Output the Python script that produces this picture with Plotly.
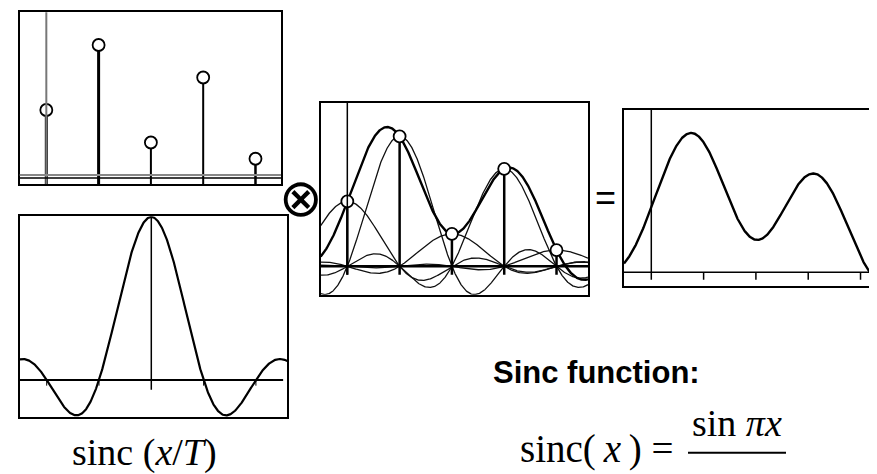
import numpy as np
import plotly.graph_objects as go

W, H = 877, 474

# ---- data ----
sample_pos = [0, 1, 2, 3, 4]           # sample index (x / T)
sample_val = [2.0, 4.0, 1.0, 3.0, 0.5]  # sample amplitudes
stem_width_top = [3, 3, 2, 2, 2.5]
label_kernel = "sinc (<i>x</i>/<i>T</i>)"
label_title = "<b>Sinc function:</b>"
label_formula_lhs = "sinc(\u2009<i>x</i>\u2009) ="
label_formula_num = "sin <i>\u03c0x</i>"
sym_conv = "\u2297"
sym_eq = "="


def px(x):
    return x / W


def py(y):
    return 1 - y / H


def sinc(t):
    return np.sinc(t)


fig = go.Figure()
BLACK = "#000000"

# axis ranges (t units = x/T, value units)
ranges = {
    1: dict(x=[-0.509, 4.488], y=[-0.277, 5.006], dx=[px(11.7), px(273)], dy=[py(176), py(4.3)]),
    2: dict(x=[-2.516, 2.600], y=[-0.229, 1.004], dx=[px(11.7), px(279.3)], dy=[py(409.3), py(208.3)]),
    3: dict(x=[-0.509, 4.602], y=[-0.874, 5.025], dx=[px(312.7), px(580)], dy=[py(286.7), py(95)]),
    4: dict(x=[-0.522, 4.468], y=[-0.431, 5.003], dx=[px(616), 1.0], dy=[py(278.3), py(101.7)]),
}

layout_axes = {}
for i, r in ranges.items():
    xa = "xaxis" if i == 1 else f"xaxis{i}"
    ya = "yaxis" if i == 1 else f"yaxis{i}"
    xs = "x" if i == 1 else f"x{i}"
    ys = "y" if i == 1 else f"y{i}"
    layout_axes[xa] = dict(domain=r["dx"], range=r["x"], anchor=ys, showgrid=False, zeroline=False,
                           showticklabels=False, ticks="", showline=True, mirror=True,
                           linecolor=BLACK, linewidth=1.6, fixedrange=True)
    layout_axes[ya] = dict(domain=r["dy"], range=r["y"], anchor=xs, showgrid=False, zeroline=False,
                           showticklabels=False, ticks="", showline=True, mirror=(i != 4),
                           linecolor=BLACK, linewidth=1.6, fixedrange=True)
fig.update_layout(**layout_axes)

shapes = []


def hline(xref, yref, y, x0, x1, color=BLACK, width=1.5):
    shapes.append(dict(type="line", xref=xref, yref=yref, x0=x0, x1=x1, y0=y, y1=y,
                       line=dict(color=color, width=width)))


def vline(xref, yref, x, y0, y1, color=BLACK, width=1.5):
    shapes.append(dict(type="line", xref=xref, yref=yref, x0=x, x1=x, y0=y0, y1=y1,
                       line=dict(color=color, width=width)))


# ---------- panel 1: samples ----------
r1 = ranges[1]
vline("x", "y domain", sample_pos[0], 0, 1, color="#777777", width=2)
hline("x domain", "y", 0, 0, 1, color="#888888", width=2)
hline("x domain", "y", -0.092, 0, 1, color=BLACK, width=1.5)
for k, (p, v) in enumerate(zip(sample_pos, sample_val)):
    fig.add_trace(go.Scatter(x=[p, p], y=[r1["y"][0], v], mode="lines",
                             line=dict(color=BLACK, width=stem_width_top[k]),
                             xaxis="x", yaxis="y", hoverinfo="skip", showlegend=False))
fig.add_trace(go.Scatter(x=sample_pos, y=sample_val, mode="markers",
                         marker=dict(size=12, color="white", line=dict(color=BLACK, width=1.8)),
                         xaxis="x", yaxis="y", hoverinfo="skip", showlegend=False))

# ---------- panel 2: sinc kernel ----------
r2 = ranges[2]
t2 = np.linspace(r2["x"][0], r2["x"][1], 600)
hline("x2", "y2", 0, r2["x"][0], 2.52, width=2)
vline("x2", "y2", 0, -0.06, 1.0, width=1.5)
for p in sample_pos[1:3]:
    for s in (-1, 1):
        vline("x2", "y2", s * p, 0, -0.035, width=1)
fig.add_trace(go.Scatter(x=t2, y=sinc(t2), mode="lines", line=dict(color=BLACK, width=2.2),
                         xaxis="x2", yaxis="y2", hoverinfo="skip", showlegend=False))

# ---------- panel 3: shifted, scaled sincs ----------
r3 = ranges[3]
t3 = np.linspace(r3["x"][0], r3["x"][1], 700)
hline("x3 domain", "y3", 0, 0, 1, width=2.5)
vline("x3", "y3", sample_pos[0], -0.258, r3["y"][1], width=1.5)
total3 = np.zeros_like(t3)
for p, v in zip(sample_pos, sample_val):
    comp = v * sinc(t3 - p)
    total3 = total3 + comp
    fig.add_trace(go.Scatter(x=t3, y=comp, mode="lines", line=dict(color="#111111", width=1.3),
                             xaxis="x3", yaxis="y3", hoverinfo="skip", showlegend=False))
fig.add_trace(go.Scatter(x=t3, y=total3, mode="lines", line=dict(color=BLACK, width=2.4),
                         xaxis="x3", yaxis="y3", hoverinfo="skip", showlegend=False))
for p, v in zip(sample_pos, sample_val):
    fig.add_trace(go.Scatter(x=[p, p], y=[-0.258, v], mode="lines", line=dict(color=BLACK, width=2.5),
                             xaxis="x3", yaxis="y3", hoverinfo="skip", showlegend=False))
fig.add_trace(go.Scatter(x=sample_pos, y=sample_val, mode="markers",
                         marker=dict(size=12, color="white", line=dict(color=BLACK, width=1.8)),
                         xaxis="x3", yaxis="y3", hoverinfo="skip", showlegend=False))

# ---------- panel 4: reconstruction ----------
r4 = ranges[4]
t4 = np.linspace(r4["x"][0], r4["x"][1] + 0.2, 700)
total4 = np.zeros_like(t4)
for p, v in zip(sample_pos, sample_val):
    total4 = total4 + v * sinc(t4 - p)
hline("x4 domain", "y4", 0, 0, 1, width=1.5)
vline("x4", "y4", sample_pos[0], -0.226, r4["y"][1], width=1.5)
for p in sample_pos[1:]:
    vline("x4", "y4", p, 0, -0.226, width=1.5)
fig.add_trace(go.Scatter(x=t4, y=total4, mode="lines", line=dict(color=BLACK, width=2.4),
                         xaxis="x4", yaxis="y4", hoverinfo="skip", showlegend=False))

# formula block (shifted up so it fits the page)
FY = -17
shapes.append(dict(type="line", xref="paper", yref="paper", x0=px(680), x1=px(778),
                   y0=py(461.7 + FY), y1=py(461.7 + FY), line=dict(color=BLACK, width=2)))

annotations = [
    dict(text=sym_conv, x=px(292.5), y=py(189.5), xref="paper", yref="paper", showarrow=False,
         xanchor="center", yanchor="middle", font=dict(family="DejaVu Sans", size=52, color=BLACK)),
    dict(text=sym_eq, x=px(597), y=py(189), xref="paper", yref="paper", showarrow=False,
         xanchor="center", yanchor="middle", font=dict(family="Liberation Sans", size=36, color=BLACK)),
    dict(text=label_title, x=px(483), y=py(364), xref="paper", yref="paper", showarrow=False,
         xanchor="left", yanchor="middle", font=dict(family="Liberation Sans", size=31, color=BLACK)),
    dict(text=label_kernel, x=px(62), y=py(444), xref="paper", yref="paper", showarrow=False,
         xanchor="left", yanchor="middle", font=dict(family="Liberation Serif", size=38, color=BLACK)),
    dict(text=label_formula_lhs, x=px(667), y=py(457.8 + FY), xref="paper", yref="paper", showarrow=False,
         xanchor="right", yanchor="middle", font=dict(family="Liberation Serif", size=39, color=BLACK)),
    dict(text=label_formula_num, x=px(729), y=py(432.2 + FY), xref="paper", yref="paper", showarrow=False,
         xanchor="center", yanchor="middle", font=dict(family="Liberation Serif", size=38, color=BLACK)),
]

fig.update_layout(width=W, height=H, margin=dict(l=0, r=0, t=0, b=0),
                  paper_bgcolor="white", plot_bgcolor="white",
                  shapes=shapes, annotations=annotations, showlegend=False)

fig.write_html("out.html", config={"displayModeBar": False})
